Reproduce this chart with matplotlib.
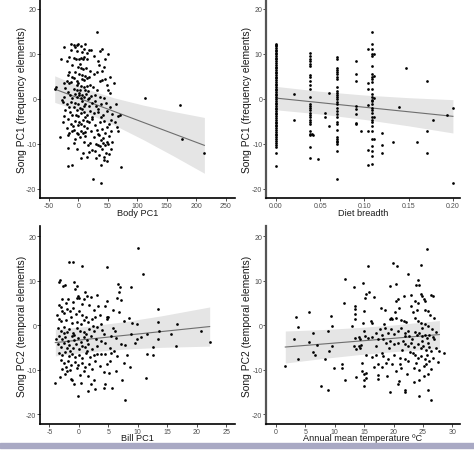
import numpy as np
import matplotlib
matplotlib.use("Agg")
import matplotlib.pyplot as plt
from matplotlib.patches import Rectangle


# =========================
# データ
# =========================

# Body PC1 vs Song PC1
body_song1 = [
    (-25, 11.6), (-13, 12.2), (-7, 12.1), (-2, 12.0), (0, 12.3), (12, 12.2), (18, 11.0),
    (-3, 10.7), (6, 10.4), (22, 10.9), (37, 10.6), (40, 11.1), (50, 10.0), (-8, 9.2),
    (-4, 9.0), (2, 9.0), (5, 9.1), (8, 8.8), (10, 9.3), (14, 8.9), (-30, 8.8), (-16, 9.4),
    (-20, 8.5), (3, 7.8), (4, 7.0), (8, 6.7), (35, 7.5), (44, 7.2), (31, 6.1), (40, 6.2),
    (-15, 6.0), (-5, 6.1), (2, 5.5), (7, 5.3), (12, 5.2), (15, 4.6), (18, 4.8), (10, 4.3),
    (-2, 4.1), (53, 5.0), (-18, 5.3), (-10, 5.0), (-20, 4.0), (-16, 3.5), (-12, 3.8),
    (-3, 3.2), (0, 3.5), (5, 2.9), (9, 2.6), (14, 3.0), (20, 3.2), (25, 2.7), (32, 2.0),
    (41, 4.3), (60, 3.5), (-38, 2.7), (-40, 2.2), (-22, 2.5), (-8, 2.2), (3, 2.0), (17, 1.8),
    (45, 4.5), (-18, 1.5), (-14, 1.0), (-6, 1.2), (1, 1.4), (2, 0.8), (6, 1.0), (10, 0.5),
    (13, 1.2), (22, 0.6), (28, 0.9), (36, 0.4), (51, 1.9), (53, 1.3), (-24, 0.5), (-10, 0.3),
    (4, 0.2), (-2, 0.5), (16, -0.1), (43, 0.2), (-26, -0.7), (-20, -1.0), (-12, -0.6),
    (-5, -0.8), (0, -1.2), (7, -0.4), (12, -1.0), (18, -1.5), (24, -0.9), (30, -1.6),
    (38, -1.2), (47, -0.8), (64, -1.1), (-16, -1.8), (-8, -1.7), (3, -1.9), (9, -1.5),
    (-22, -2.4), (-14, -2.8), (-2, -2.5), (5, -3.0), (10, -2.8), (15, -3.5), (20, -2.6),
    (27, -3.2), (33, -2.9), (42, -3.5), (48, -2.7), (58, -3.4), (70, -3.6), (-10, -3.6),
    (0, -3.8), (12, -4.0), (68, -3.8), (-18, -4.5), (-6, -4.8), (2, -5.0), (8, -4.6),
    (18, -5.2), (24, -4.4), (36, -5.0), (44, -4.8), (52, -5.5), (-12, -5.5), (-1, -5.8),
    (10, -6.0), (28, -5.8), (62, -5.0), (-20, -6.5), (-8, -6.8), (4, -7.0), (15, -6.5),
    (22, -7.2), (40, -6.6), (46, -7.5), (65, -6.3), (68, -7.2), (-2, -7.5), (0, -7.8),
    (8, -7.6), (33, -7.8), (-15, -7.5), (-31, -8.4), (-5, -8.8), (3, -8.5), (12, -8.3),
    (38, -9.0), (42, -8.7), (48, -9.5), (20, -9.7), (-18, -8.0), (30, -10.0), (33, -10.2),
    (37, -10.5), (40, -11.0), (45, -10.3), (50, -10.0), (55, -11.0), (47, -12.0), (43, -12.8),
    (18, -11.8), (8, -12.0), (-17, -10.8), (24, -11.3), (52, -12.3), (5, -13.0),
    (-18, -14.8), (-11, -14.6), (73, -15.0), (25, -17.8), (38, -18.7), (38, -14.6),
    (44, -13.5), (32, 14.8), (113, 0.3), (173, -1.3), (176, -8.9), (214, -12.0),
    (-12, 10.8), (-6, 11.5), (4, 11.8), (9, 11.2), (15, 10.2), (27, 9.5), (33, 8.4),
    (46, 8.9), (-10, 7.6), (-1, 7.2), (13, 7.0), (20, 6.3), (26, 5.6), (36, 4.0), (48, 3.2),
    (-25, 3.6), (-7, 4.6), (6, 4.5), (-28, -0.2), (-3, 2.1), (11, 1.9), (19, 0.3),
    (29, -0.4), (34, -2.2), (54, -1.8), (-24, -3.8), (-4, -3.6), (7, -2.2), (23, -3.9),
    (38, -4.0), (56, -4.6), (-26, -5.2), (-9, -5.9), (5, -5.6), (14, -4.9), (31, -6.8),
    (48, -6.2), (56, -7.2), (-11, -7.2), (11, -7.4), (26, -8.5), (35, -8.0), (52, -8.3),
    (-8, -9.8), (9, -9.6), (16, -10.2), (28, -11.6), (35, -12.4), (42, -9.8), (58, -9.5),
    (-2, -11.2), (14, -12.8), (49, -13.8), (30, -13.2),
]
body_fit_x = [-40, 10, 60, 110, 160, 214]
body_fit_y = [2.2, -0.26, -2.72, -5.18, -7.64, -10.3]
body_fit_lo = [-0.75, -2.93, -5.72, -9.01, -12.54, -16.5]
body_fit_hi = [5.15, 2.41, 0.28, -1.35, -2.74, -4.1]

# Diet breadth vs Song PC1 (縦に並ぶ列)
diet_col_000 = [12.3, 12.0, 11.7, 11.3, 11.0, 10.6, 10.2, 9.9, 9.5, 9.1, 8.8, 8.4, 8.0,
                7.6, 7.2, 6.9, 6.5, 6.1, 5.7, 5.3, 5.0, 4.6, 4.2, 3.8, 3.4, 3.1, 2.7,
                2.3, 1.9, 1.5, 1.2, 0.8, 0.4, 0.0, -0.4, -0.8, -1.1, -1.5, -1.9, -2.3,
                -2.7, -3.0, -3.4, -3.8, -4.2, -4.6, -5.0, -5.3, -5.7, -6.1, -6.5, -6.9,
                -7.3, -7.7, -8.1, -8.5, -8.9, -9.3, -9.8, -10.3, -10.7, -12.0, -14.9]
diet_col_038 = [10.2, 9.6, 9.0, 8.5, 7.8, 7.3, 5.4, 4.8, 4.1, 3.2, 2.2, 0.5, -1.1, -1.5,
                -2.0, -2.4, -3.0, -3.5, -4.1, -4.7, -5.2, -5.6, -7.2, -7.8, -8.1, -10.7,
                -13.0]
diet_col_069 = [9.3, 8.9, 7.0, 6.4, 5.9, 5.6, 4.8, 4.4, 2.6, 1.8, 1.3, 1.0, 0.5, 0.0,
                -0.7, -1.1, -1.9, -2.7, -3.3, -4.1, -5.0, -5.6, -6.9, -8.5, -8.9, -9.3,
                -9.6, -10.0, -11.5, -17.8]
diet_col_108 = [14.8, 12.2, 11.1, 10.0, 9.6, 7.4, 5.6, 4.8, 4.4, 3.7, 2.2, 1.1, 0.4,
                -0.2, -0.5, -1.1, -1.9, -2.4, -3.2, -4.1, -4.7, -5.2, -5.9, -7.0, -8.9,
                -10.4, -11.5, -12.6, -14.4]
diet_other = [
    (0.020, 1.1), (0.020, -4.6), (0.041, -7.7), (0.042, -8.1), (0.048, -13.3),
    (0.055, -3.1), (0.055, -4.1), (0.060, 1.3), (0.060, -6.1), (0.090, 8.5),
    (0.090, 5.6), (0.090, 4.1), (0.090, -1.5), (0.090, -2.2), (0.090, -3.3),
    (0.090, -5.4), (0.090, -5.6), (0.096, -7.2), (0.104, 11.1), (0.104, 3.5),
    (0.104, 2.2), (0.104, -1.3), (0.104, -7.0), (0.104, -11.3), (0.104, -14.6),
    (0.111, 9.9), (0.111, 5.2), (0.111, 0.3), (0.111, -4.0), (0.111, -8.8),
    (0.120, -7.6), (0.120, -10.2), (0.120, -11.9), (0.132, -9.5), (0.139, -1.7),
    (0.147, 7.0), (0.159, -9.5), (0.171, 4.1), (0.171, -7.0), (0.171, -11.9),
    (0.177, -4.7), (0.193, -3.6), (0.200, -2.1), (0.200, -18.7),
]
diet_fit_x = [0.0, 0.05, 0.10, 0.15, 0.20]
diet_fit_y = [0.2, -0.81, -1.83, -2.84, -3.85]
diet_fit_lo = [-2.4, -3.33, -4.54, -5.97, -7.55]
diet_fit_hi = [2.8, 1.71, 0.88, 0.29, -0.15]

# Bill PC1 vs Song PC2
bill_song2 = [
    (10.1, 17.3), (4.7, 13.1), (10.8, 11.5), (8.9, 8.6), (-1.6, 14.1), (-1.0, 14.3),
    (0.5, 13.4), (-3.2, 10.1), (-3.4, 9.8), (-2.4, 9.1), (-2.7, 8.8), (-0.3, 8.9),
    (-0.6, 8.1), (-0.2, 6.6), (-0.4, 6.2), (0.1, 6.1), (1.3, 6.6), (2.0, 6.4), (0.9, 5.9),
    (3.0, 6.8), (6.6, 9.2), (7.0, 8.5), (6.8, 7.4), (6.4, 6.2), (4.7, 5.5), (4.5, 4.4),
    (7.1, 5.7), (5.0, 1.9), (4.7, 1.9), (6.8, 2.9), (8.5, 1.7), (9.1, 0.4), (9.8, 0.2),
    (13.4, 3.6), (13.4, 0.8), (16.6, 0.2), (11.6, -1.9), (13.6, -1.4), (15.6, -1.9),
    (20.7, -1.4), (22.3, -3.7), (13.4, -3.0), (16.5, -4.7), (12.5, -4.9), (11.5, -6.4),
    (12.6, -6.8), (11.4, -11.9), (8.9, -2.0), (9.9, -3.0), (6.3, -2.8), (7.1, -4.3),
    (7.8, -4.4), (4.3, -2.0), (5.4, -2.4), (3.7, -3.5), (4.4, -6.5), (3.7, -6.4),
    (3.1, -6.5), (5.4, -6.2), (6.0, -5.8), (7.6, -8.4), (8.7, -9.5), (6.3, -10.3),
    (5.1, -10.7), (4.8, -8.8), (7.4, -12.2), (7.8, -16.9), (4.5, -13.3), (4.3, -14.0),
    (2.8, -14.4), (2.0, -13.3), (1.5, -14.8), (-0.2, -15.9), (0.3, -13.0), (5.7, -14.0),
    (-4.0, -12.9), (-3.2, -11.6), (-1.4, -12.0), (-1.1, -12.2), (-2.3, -11.0), (-2.0, -10.3),
    (-3.3, 4.5), (-3.0, 4.0), (-2.8, 3.2), (-2.5, 2.8), (-2.0, 3.6), (-1.5, 3.2), (-1.0, 3.8),
    (-0.5, 2.6), (0.0, 3.3), (0.6, 2.2), (1.2, 1.8), (2.2, 1.4), (2.8, 1.8), (-3.4, 1.5),
    (-3.0, 0.9), (-2.2, 1.2), (-1.2, 0.5), (-0.3, 0.8), (0.4, 0.3), (1.5, 0.7), (-3.6, -0.7),
    (-3.1, -1.2), (-2.6, -0.4), (-2.0, -1.5), (-1.6, -0.9), (-1.0, -1.8), (-0.4, -0.6),
    (0.2, -1.3), (0.9, -1.6), (1.8, -0.9), (2.6, -1.4), (3.1, -0.3), (-3.3, -2.5),
    (-2.9, -3.2), (-2.3, -2.7), (-1.8, -3.6), (-1.2, -2.4), (-0.8, -3.4), (-0.2, -2.9),
    (0.3, -3.8), (0.8, -2.6), (1.4, -3.3), (2.1, -2.4), (2.9, -3.1), (-3.5, -4.2),
    (-3.0, -4.8), (-2.5, -4.1), (-2.1, -5.2), (-1.6, -4.5), (-1.0, -5.1), (-0.5, -4.3),
    (0.0, -5.4), (0.5, -4.6), (1.0, -5.0), (1.6, -4.2), (2.3, -5.3), (3.0, -4.7),
    (-3.4, -6.2), (-2.8, -6.8), (-2.3, -6.1), (-1.7, -7.0), (-1.1, -6.4), (-0.6, -7.2),
    (0.0, -6.6), (0.6, -7.4), (1.2, -6.3), (1.9, -7.1), (2.5, -6.7), (-3.1, -7.9),
    (-2.5, -8.6), (-1.9, -8.1), (-1.3, -8.9), (-0.7, -8.3), (-0.1, -9.0), (0.5, -8.5),
    (1.1, -9.4), (1.8, -8.7), (-2.8, -9.8), (-1.5, -10.1), (-0.4, -9.7), (0.8, -10.4),
    (2.2, -9.9), (-2.9, 5.8), (-1.8, 6.0), (-1.0, 5.2), (0.5, 4.7), (1.7, 4.5), (-2.2, 5.0),
    (2.5, 3.5), (3.5, 2.4), (3.8, 0.2), (4.0, -1.0), (4.5, -4.0), (5.3, -5.2), (6.5, -7.0),
    (4.8, 1.5), (5.8, -0.6),
    (-3.7, 2.2), (-1.3, 1.8), (0.9, 1.1), (2.4, -0.1), (-2.6, -1.8), (-0.9, -2.1),
    (1.2, -2.0), (-3.8, -3.1), (-1.5, -5.8), (1.4, -5.8), (2.8, -8.0), (-2.2, -9.3),
    (0.2, -11.2), (1.6, -11.5), (-0.9, -13.3), (3.5, -9.2), (4.2, -10.6), (3.3, 4.3),
    (1.0, 7.4), (-0.8, 9.8), (2.6, -12.4), (5.8, 3.5), (6.2, -1.2), (8.2, -6.6),
    (9.5, -4.0), (10.6, -2.6), (7.6, 0.9), (5.2, -8.0),
]
bill_fit_x = [-4, 2, 8, 14, 22.2]
bill_fit_y = [-3.9, -3.08, -2.25, -1.43, -0.3]
bill_fit_lo = [-6.9, -5.98, -5.35, -4.97, -4.7]
bill_fit_hi = [-0.9, -0.18, 0.85, 2.11, 4.1]

# Annual mean temperature vs Song PC2
temp_song2 = [
    (1.58, -9.2), (3.1, -3.05), (3.4, 1.8), (3.8, -0.35), (3.8, -7.5), (5.6, 2.95),
    (5.6, -3.8), (6.35, -1.85), (6.3, -6.05), (6.6, -6.6), (7.0, -4.55), (7.6, -13.7),
    (8.3, -7.7), (8.8, -14.5), (9.05, -5.8), (9.4, 2.05), (9.5, -0.2), (9.5, -4.7),
    (9.8, -9.6), (8.8, -1.25), (11.2, -8.7), (11.2, -9.6), (11.7, 10.3), (11.6, 5.05),
    (11.7, -12.2), (13.0, -0.2), (13.2, 8.65), (13.4, 4.3), (13.4, 3.7), (13.5, 2.6),
    (13.4, 1.3), (13.5, -2.8), (13.2, -4.7), (13.6, -5.3), (14.05, -4.7), (14.3, -5.1),
    (14.5, -4.55), (13.7, -11.7), (14.7, -8.6), (14.8, 9.5), (14.9, 3.3), (14.8, 0.4),
    (15.1, 6.2), (14.6, -10.3), (14.9, -10.9), (15.0, -12.2), (15.0, -13.7), (14.2, -2.7),
    (14.3, -3.05), (14.9, -1.3), (15.1, -2.45), (15.7, 13.3), (19.9, 14.0), (20.6, 13.4),
    (24.6, 13.5), (25.7, 17.1), (22.4, 11.6), (24.1, 10.2), (23.9, 9.0), (24.3, 9.0),
    (19.4, 8.9), (20.5, 9.2), (15.8, 7.4), (15.4, 7.1), (16.7, 6.4), (23.0, 6.9),
    (24.6, 7.1), (24.8, 6.5), (25.2, 5.8), (25.4, 5.4), (26.4, 6.7), (26.7, 6.5),
    (21.8, 6.5), (20.7, 5.8), (20.4, 5.4), (23.7, 5.4), (24.2, 5.0), (17.9, 3.9),
    (18.5, 3.4), (22.9, 4.3), (23.3, 2.9), (24.0, 3.4), (25.3, 3.5), (25.9, 3.1),
    (20.2, 2.9), (19.5, 1.7), (19.4, 1.3), (19.8, 1.5), (20.5, 1.7), (16.2, 0.9),
    (16.3, 0.5), (21.2, 1.1), (21.8, 0.9), (22.2, 0.7), (23.6, 1.7), (24.1, 0.9),
    (24.7, 0.5), (24.8, -0.6), (25.3, 0.2), (25.8, -0.2), (17.7, -0.95), (17.1, -1.7),
    (17.96, -2.1), (18.6, -0.6), (19.0, -1.7), (19.6, -0.95), (20.1, -1.9), (20.8, -1.3),
    (21.3, -0.6), (21.9, -1.7), (22.5, -1.3), (22.7, -2.5), (23.6, -1.55), (24.0, -2.1),
    (24.4, -1.7), (24.8, -2.5), (25.3, -2.1), (25.7, -2.8), (26.1, -2.3), (26.7, -2.6),
    (26.95, -3.2), (15.7, -2.8), (16.4, -2.6), (17.4, -3.2), (18.2, -3.1), (18.8, -4.0),
    (19.4, -3.6), (20.1, -4.3), (20.8, -4.0), (21.6, -3.6), (21.9, -4.3), (22.5, -4.7),
    (23.0, -4.0), (23.5, -4.9), (24.1, -4.3), (24.6, -5.1), (25.0, -4.7), (25.5, -5.5),
    (26.1, -4.9), (26.4, -5.8), (27.2, -5.1), (27.8, -5.8), (15.4, -6.8), (16.3, -7.1),
    (17.1, -6.6), (17.96, -6.2), (18.2, -7.0), (19.0, -7.6), (20.1, -6.8), (21.05, -7.3),
    (21.9, -7.7), (23.3, -6.2), (23.7, -6.8), (24.2, -7.3), (24.7, -7.0), (25.3, -7.7),
    (25.7, -6.6), (26.1, -8.1), (26.7, -7.3), (17.4, -8.8), (17.96, -9.4), (18.8, -8.5),
    (21.05, -8.8), (21.2, -9.6), (22.5, -8.1), (23.5, -9.6), (24.4, -10.0), (25.2, -9.2),
    (25.5, -8.8), (25.8, -10.9), (15.4, -10.7), (15.4, -11.8), (17.3, -11.1), (17.3, -12.1),
    (22.3, -10.9), (24.4, -12.2), (20.7, -13.3), (21.9, -14.6), (22.0, -15.1), (19.4, -15.05),
    (24.4, -15.8), (25.8, -14.5), (26.4, -16.9), (28.5, -6.2),
    (18.3, 0.2), (19.2, -5.2), (20.5, -10.3), (21.5, -5.6), (22.8, -6.0), (23.2, -3.1),
    (24.9, -3.6), (25.9, -4.0), (26.5, -0.9), (27.3, -1.6), (26.9, 1.6), (21.0, 3.8),
    (22.0, -2.4), (23.9, -8.6), (25.1, -11.3), (26.4, -9.8), (19.7, -8.8), (18.9, -11.3),
    (17.0, -4.6), (16.6, -9.4), (27.6, -8.3), (26.2, 2.4), (20.9, -12.6), (23.5, -12.8),
]
temp_fit_x = [1.6, 8, 14, 20, 27.8]
temp_fit_y = [-4.9, -4.22, -3.58, -2.94, -2.1]
temp_fit_lo = [-8.5, -7.47, -6.63, -5.94, -5.25]
temp_fit_hi = [-1.3, -0.97, -0.53, 0.06, 1.05]


# =========================
# 描画設定
# =========================

plt.rcParams["font.family"] = ["Liberation Sans", "DejaVu Sans"]
plt.rcParams["axes.unicode_minus"] = False

W, H = 474, 456
fig = plt.figure(figsize=(W / 100, H / 100), dpi=100)


def add_panel(left, top, right, bottom):
    return fig.add_axes([left / W, 1 - bottom / H, (right - left) / W, (bottom - top) / H])


def style_panel(ax, xlim, ylim, xticks, xticklabels, xlabel, ylabel,
                spine_color, spine_w, ylab_x, xlab_y):
    ax.set_xlim(*xlim)
    ax.set_ylim(*ylim)
    ax.set_xticks(xticks)
    ax.set_xticklabels(xticklabels)
    ax.set_yticks([-20, -10, 0, 10, 20])
    ax.set_yticklabels(["-20", "-10", "0", "10", "20"])
    for s in ["top", "right"]:
        ax.spines[s].set_visible(False)
    ax.spines["left"].set_color(spine_color)
    ax.spines["left"].set_linewidth(spine_w)
    ax.spines["bottom"].set_color("black")
    ax.spines["bottom"].set_linewidth(1.2)
    ax.tick_params(length=2, width=0.6, color="#333333", labelsize=5,
                   labelcolor="#4d4d4d", pad=0.6)
    ax.set_xlabel(xlabel, fontsize=6.6, color="#1a1a1a")
    ax.set_ylabel(ylabel, fontsize=7.4, color="#1a1a1a")
    ax.yaxis.set_label_coords(ylab_x, 0.5)
    ax.xaxis.set_label_coords(0.5, xlab_y)
    ax.set_facecolor("white")


def draw_fit(ax, fx, fy, flo, fhi):
    ax.fill_between(fx, flo, fhi, color="#e5e5e5", lw=0, zorder=1)
    ax.plot(fx, fy, color="#6e6e6e", lw=0.8, zorder=2)


def draw_points(ax, xs, ys):
    ax.scatter(xs, ys, s=3.8, c="black", linewidths=0, zorder=3)


# -------------------------
# Body PC1
# -------------------------
ax1 = add_panel(40, 1, 235, 199)
draw_fit(ax1, body_fit_x, body_fit_y, body_fit_lo, body_fit_hi)
draw_points(ax1, [p[0] for p in body_song1], [p[1] for p in body_song1])
style_panel(ax1, (-65, 266), (-22, 22), [-50, 0, 50, 100, 150, 200, 250],
            ["-50", "0", "50", "100", "150", "200", "250"],
            "Body PC1", "Song PC1 (frequency elements)", "black", 1.2,
            -0.068, -0.052)

# -------------------------
# Diet breadth
# -------------------------
ax2 = add_panel(266, 1, 460, 199)
draw_fit(ax2, diet_fit_x, diet_fit_y, diet_fit_lo, diet_fit_hi)
dx = ([0.0] * len(diet_col_000) + [0.038] * len(diet_col_038)
      + [0.069] * len(diet_col_069) + [0.108] * len(diet_col_108)
      + [p[0] for p in diet_other])
dy = diet_col_000 + diet_col_038 + diet_col_069 + diet_col_108 + [p[1] for p in diet_other]
draw_points(ax2, dx, dy)
style_panel(ax2, (-0.0113, 0.208), (-22, 22), [0, 0.05, 0.10, 0.15, 0.20],
            ["0.00", "0.05", "0.10", "0.15", "0.20"],
            "Diet breadth", "Song PC1 (frequency elements)", "#555555", 1.6,
            -0.072, -0.052)

# -------------------------
# Bill PC1
# -------------------------
ax3 = add_panel(40, 227, 235, 425)
draw_fit(ax3, bill_fit_x, bill_fit_y, bill_fit_lo, bill_fit_hi)
draw_points(ax3, [p[0] for p in bill_song2], [p[1] for p in bill_song2])
style_panel(ax3, (-6.6, 26.5), (-22.2, 22.3), [-5, 0, 5, 10, 15, 20, 25],
            ["-5", "0", "5", "10", "15", "20", "25"],
            "Bill PC1", "Song PC2 (temporal elements)", "black", 1.2,
            -0.068, -0.046)

# -------------------------
# Annual mean temperature
# -------------------------
ax4 = add_panel(266, 227, 460, 425)
draw_fit(ax4, temp_fit_x, temp_fit_y, temp_fit_lo, temp_fit_hi)
draw_points(ax4, [p[0] for p in temp_song2], [p[1] for p in temp_song2])
style_panel(ax4, (-1.68, 31.3), (-22.2, 22.3), [0, 5, 10, 15, 20, 25, 30],
            ["0", "5", "10", "15", "20", "25", "30"],
            "Annual mean temperature \u00baC", "Song PC2 (temporal elements)", "#555555", 1.6,
            -0.072, -0.046)

# 下端の帯
fig.patches.append(Rectangle((0, (H - 449) / H), 1, 5 / H, transform=fig.transFigure,
                             color="#a9a9c4", zorder=0))

fig.savefig("out.png", dpi=100, facecolor="white")
